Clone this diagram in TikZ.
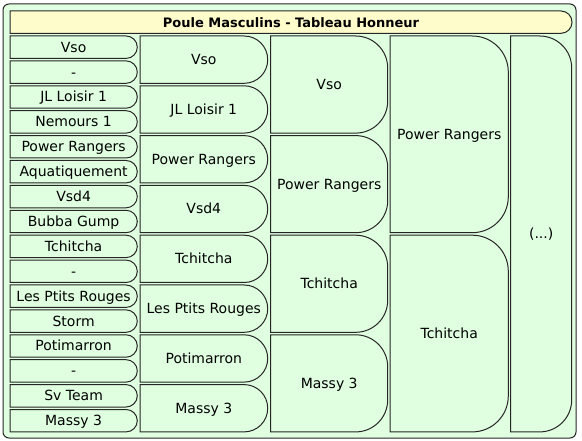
\documentclass[tikz,border=0pt]{standalone}
\usepackage{fontspec}
\setmainfont{DejaVu Sans}
\definecolor{poolgreen}{RGB}{224,255,224}
\definecolor{titleyellow}{RGB}{255,252,204}
\tikzset{
  cell/.style={draw=black!85,line width=1pt,fill=poolgreen},
  teamname/.style={font=\fontsize{14}{16}\selectfont,inner sep=0pt,text height=10pt,text depth=0pt}
}
\begin{document}
\begin{tikzpicture}[x=1pt,y=-1pt]
\useasboundingbox (0,0) rectangle (582,441);
\draw[cell,rounded corners=6pt] (3,4) rectangle (576,438);
% title bar
\draw[cell,fill=titleyellow] (10,11) [rounded corners=11pt] -- (572,11) -- (572,33.3) [sharp corners] -- (10,33.3) -- cycle;
\node[teamname,font=\bfseries\fontsize{13}{15}\selectfont] (title) at (291,22.2) {Poule Masculins - Tableau Honneur};
% first round
\foreach \team [count=\i from 0] in {Vso,-,JL Loisir 1,Nemours 1,Power Rangers,Aquatiquement,Vsd4,Bubba Gump,Tchitcha,-,Les Ptits Rouges,Storm,Potimarron,-,Sv Team,Massy 3} {
  \draw[cell] (10,{36+24.9*\i}) [rounded corners=11.2pt] -- (137.3,{36+24.9*\i}) -- (137.3,{58.4+24.9*\i}) [sharp corners] -- (10,{58.4+24.9*\i}) -- cycle;
  \node[teamname] (ra\i) at (73.6,{47.2+24.9*\i}) {\team};
}
% second round
\foreach \team [count=\i from 0] in {Vso,JL Loisir 1,Power Rangers,Vsd4,Tchitcha,Les Ptits Rouges,Potimarron,Massy 3} {
  \draw[cell] (140,{36+49.8*\i}) [rounded corners=23.5pt] -- (267.7,{36+49.8*\i}) -- (267.7,{83.3+49.8*\i}) [sharp corners] -- (140,{83.3+49.8*\i}) -- cycle;
  \node[teamname] (rb\i) at (203.8,{59.6+49.8*\i}) {\team};
}
% third round
\foreach \team [count=\i from 0] in {Vso,Power Rangers,Tchitcha,Massy 3} {
  \draw[cell] (270.7,{36+99.6*\i}) [rounded corners=32pt] -- (387.7,{36+99.6*\i}) -- (387.7,{133.1+99.6*\i}) [sharp corners] -- (270.7,{133.1+99.6*\i}) -- cycle;
  \node[teamname] (rc\i) at (329.2,{84.5+99.6*\i}) {\team};
}
% fourth round
\foreach \team [count=\i from 0] in {Power Rangers,Tchitcha} {
  \draw[cell] (390,{36+199.2*\i}) [rounded corners=36pt] -- (508.3,{36+199.2*\i}) -- (508.3,{232.7+199.2*\i}) [sharp corners] -- (390,{232.7+199.2*\i}) -- cycle;
  \node[teamname] (rd\i) at (449.2,{134.3+199.2*\i}) {\team};
}
% final
\draw[cell] (510.7,36) [rounded corners=32pt] -- (571.7,36) -- (571.7,431.9) [sharp corners] -- (510.7,431.9) -- cycle;
\node[teamname] (re) at (541.2,234) {(...)};
\end{tikzpicture}
\end{document}
